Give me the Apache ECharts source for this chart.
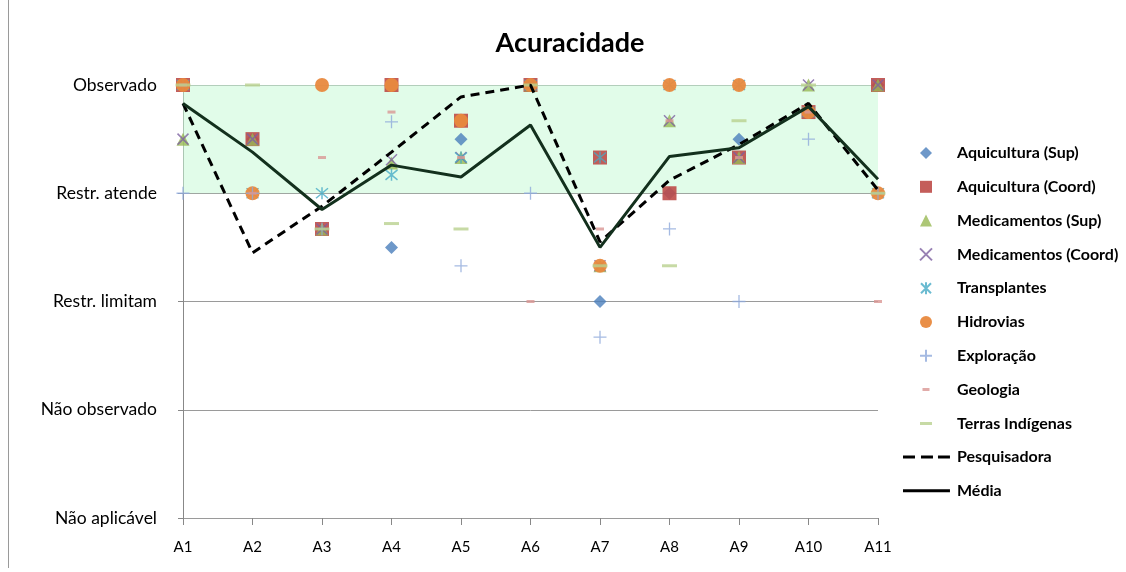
<!DOCTYPE html>
<html>
<head>
<meta charset="utf-8">
<script src="https://cdn.jsdelivr.net/npm/echarts@6/dist/echarts.min.js"></script>
<style>
html,body{margin:0;padding:0;background:#fff;}
#chart{width:1126px;height:572px;}
</style>
</head>
<body>
<div id="chart"></div>
<script>
const categories = ['A1','A2','A3','A4','A5','A6','A7','A8','A9','A10','A11'];
const yLabels = ['Não aplicável','Não observado','Restr. limitam','Restr. atende','Observado'];

const aquiculturaSup   = [4, 3.5, 2.67, 2.5, 3.5, 4, 2, 3, 3.5, 3.75, 4];
const aquiculturaCoord = [4, 3.5, 2.67, 4, 3.67, 4, 3.33, 3, 3.33, 3.75, 4];
const medicamentosSup  = [3.5, 3.5, 2.67, 3.28, 3.33, 4, 2.33, 3.67, 3.33, 4, 4];
const medicamentosCoord= [3.5, 3.5, 2.67, 3.31, 3.33, 4, 2.33, 3.67, 3.33, 4, 4];
const transplantes     = [4, 3, 3, 3.17, 3.33, 4, 3.33, 4, 4, 3.75, 3];
const hidrovias        = [4, 3, 4, 4, 3.67, 4, 2.33, 4, 4, 3.75, 3];
const exploracao       = [3, 3, 2.67, 3.66, 2.33, 3, 1.67, 2.67, 2, 3.5, 3];
const geologia         = [4, 3, 3.33, 3.75, 3.33, 2, 2.67, 3.67, 3.33, 3.75, 2];
const terrasIndigenas  = [4, 4, 2.67, 2.72, 2.67, 4, 2.33, 2.33, 3.67, 4, 3];
const pesquisadora     = [3.83, 2.45, 2.88, 3.38, 3.89, 4, 2.55, 3.12, 3.45, 3.83, 3.03];
const media            = [3.83, 3.38, 2.85, 3.26, 3.15, 3.63, 2.5, 3.34, 3.42, 3.8, 3.13];

const FONT = 'Lato, "Liberation Sans", sans-serif';
const xPath = 'path://M0,0L10,10M10,0L0,10';
const starPath = 'path://M0,0L10,10M10,0L0,10M5,-1L5,11';
const plusPath = 'path://M5,0L5,10M0,5L10,5';
const dashPath = 'path://M0,0L10,0L10,3L0,3Z';
// legend icons padded to a 12x12 (or 47x12) box with tiny corner specks so they are not stretched
const BOX12 = 'M0,0h0.01v0.01h-0.01zM12,12h0.01v0.01h-0.01z';
const BOX47 = 'M0,0h0.01v0.01h-0.01zM47,12h0.01v0.01h-0.01z';
const geoIcon = 'path://' + BOX12 + 'M2.5,4.5h7v3h-7z';
const terrasIcon = 'path://' + BOX12 + 'M0,4.5h12v3h-12z';
const dashedIcon = 'path://' + BOX47 + 'M0,4.5h12v3h-12zM18,4.5h12v3h-12zM35,4.5h12v3h-12z';
const solidIcon = 'path://' + BOX47 + 'M0,4.5h47v3h-47z';

function scatter(name, data, symbol, size, itemStyle) {
  return { name, type: 'scatter', data, symbol, symbolSize: size, itemStyle, z: 2,
    emphasis: { disabled: true } };
}

const legendText = { fontFamily: FONT, fontSize: 16, fontWeight: 'bold', color: '#000' };

const chart = echarts.init(document.getElementById('chart'), null, { renderer: 'canvas' });
chart.setOption({
  animation: false,
  backgroundColor: '#fff',
  title: {
    text: 'Acuracidade', left: 565, top: 25, textAlign: 'center',
    textStyle: { fontFamily: FONT, fontSize: 27, fontWeight: 'bold', color: '#000' }
  },
  graphic: [
    { type: 'line', shape: { x1: 8.5, y1: 0, x2: 8.5, y2: 568 }, style: { stroke: '#9a9a9a', lineWidth: 1 } }
  ],
  legend: [
    {
      orient: 'vertical', left: 919, top: 145, padding: 0, itemGap: 17.8, itemWidth: 12, itemHeight: 12,
      textStyle: Object.assign({ padding: [0, 0, 0, 20] }, legendText),
      data: ['Aquicultura (Sup)','Aquicultura (Coord)','Medicamentos (Sup)','Medicamentos (Coord)',
             'Transplantes','Hidrovias','Exploração',
             { name: 'Geologia', icon: geoIcon },
             { name: 'Terras Indígenas', icon: terrasIcon }]
    },
    {
      orient: 'vertical', left: 903, top: 449, padding: 0, itemGap: 17.8, itemWidth: 47, itemHeight: 12,
      textStyle: Object.assign({ padding: [0, 0, 0, 2] }, legendText),
      data: [{ name: 'Pesquisadora', icon: dashedIcon }, { name: 'Média', icon: solidIcon }]
    }
  ],
  grid: { left: 183, right: 248, top: 85, bottom: 54, containLabel: false },
  xAxis: {
    type: 'category', data: categories, boundaryGap: false,
    axisLine: { show: false },
    axisTick: { show: true, alignWithLabel: true, length: 7, lineStyle: { color: '#888' } },
    axisLabel: { fontFamily: FONT, fontSize: 15, color: '#000', margin: 22 },
    splitLine: { show: false }
  },
  yAxis: {
    type: 'value', min: 0, max: 4, interval: 1,
    axisLine: { show: true, lineStyle: { color: '#888' } },
    axisTick: { show: true, length: 5, lineStyle: { color: '#888' } },
    axisLabel: { fontFamily: FONT, fontSize: 17.5, color: '#000', margin: 26,
      formatter: v => yLabels[Math.round(v)] },
    splitLine: { show: true, lineStyle: { color: '#9a9a9a', width: 1 } }
  },
  series: [
    scatter('Aquicultura (Sup)', aquiculturaSup, 'diamond', 13, { color: '#4A7EBB' }),
    scatter('Aquicultura (Coord)', aquiculturaCoord, 'rect', 14, { color: '#BE4B48', opacity: 0.9 }),
    scatter('Medicamentos (Sup)', medicamentosSup, 'triangle', 13, { color: '#98B954' }),
    scatter('Medicamentos (Coord)', medicamentosCoord, xPath, 11, { color: 'rgba(0,0,0,0)', borderColor: '#7D60A0', borderWidth: 1.5 }),
    scatter('Transplantes', transplantes, starPath, 12, { color: 'rgba(0,0,0,0)', borderColor: '#46AAC5', borderWidth: 1.5 }),
    scatter('Hidrovias', hidrovias, 'circle', 14, { color: '#E8893E', opacity: 0.95 }),
    scatter('Exploração', exploracao, plusPath, 13, { color: 'rgba(0,0,0,0)', borderColor: '#8EA9DB', borderWidth: 1.3 }),
    scatter('Geologia', geologia, dashPath, [8, 3], { color: '#D99694' }),
    scatter('Terras Indígenas', terrasIndigenas, dashPath, [15, 3], { color: '#B9D18E' }),
    {
      name: 'Pesquisadora', type: 'line', data: pesquisadora, symbol: 'none', z: 3,
      lineStyle: { color: '#000', width: 3, type: [9, 6] }, itemStyle: { color: '#000' },
      emphasis: { disabled: true }
    },
    {
      name: 'Média', type: 'line', data: media, symbol: 'none', z: 3,
      lineStyle: { color: '#13301D', width: 3 }, itemStyle: { color: '#000' },
      emphasis: { disabled: true },
      markArea: {
        silent: true, itemStyle: { color: 'rgba(200,250,215,0.55)' },
        data: [[{ yAxis: 3 }, { yAxis: 4 }]]
      }
    }
  ]
});
</script>
</body>
</html>
